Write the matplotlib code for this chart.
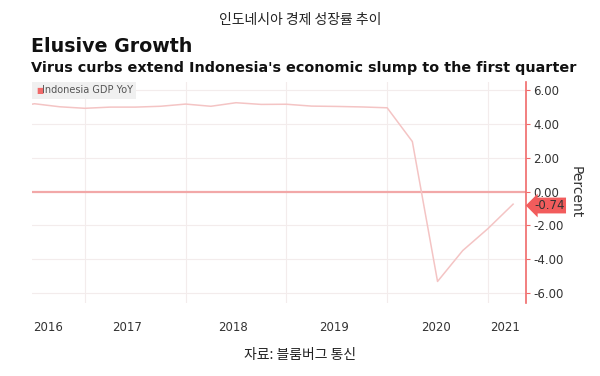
import matplotlib.pyplot as plt
import matplotlib.transforms as mtransforms

plt.rcParams['font.family'] = ['DejaVu Sans', 'Noto Sans CJK KR']

# quarterly Indonesia GDP YoY, quarter-end positions in decimal years
quarters = [2016.25, 2016.50, 2016.75, 2017.00,
            2017.25, 2017.50, 2017.75, 2018.00,
            2018.25, 2018.50, 2018.75, 2019.00,
            2019.25, 2019.50, 2019.75, 2020.00,
            2020.25, 2020.50, 2020.75, 2021.00,
            2021.25]
gdp_yoy = [4.94, 5.21, 5.03, 4.94,
           5.01, 5.01, 5.06, 5.19,
           5.06, 5.27, 5.17, 5.18,
           5.07, 5.05, 5.02, 4.97,
           2.97, -5.32, -3.49, -2.19,
           -0.74]
year_labels = ['2016', '2017', '2018', '2019', '2020', '2021']
year_label_pos = [2016.63, 2017.42, 2018.47, 2019.47, 2020.48, 2021.17]
y_ticks = [6, 4, 2, 0, -2, -4, -6]
last_value = -0.74

line_col = '#f4c4c4'
axis_red = '#f06a6a'
text_col = '#333333'

fig = plt.figure(figsize=(6, 3.76), dpi=100)
ax = fig.add_axes([0.0533, 0.194, 0.8237, 0.588])

ax.plot(quarters, gdp_yoy, color=line_col, lw=1.1, zorder=3)
ax.axhline(0, color='#f2a8a8', lw=1.6, zorder=2)

ax.set_xlim(2016.475, 2021.38)
ax.set_ylim(-6.6, 6.5)

# grid
for yr in [2017, 2018, 2019, 2020, 2021]:
    ax.axvline(yr, color='#f3ecec', lw=0.8, zorder=1)
for v in y_ticks:
    if v != 0:
        ax.axhline(v, color='#f3ecec', lw=0.8, zorder=1)

for s in ['top', 'left', 'bottom']:
    ax.spines[s].set_visible(False)
ax.spines['right'].set_color(axis_red)
ax.spines['right'].set_linewidth(1.2)

ax.yaxis.tick_right()
ax.set_yticks(y_ticks)
ax.set_yticklabels(['%.2f' % v for v in y_ticks])
ax.tick_params(axis='y', colors=axis_red, labelcolor=text_col, length=3,
               width=0.8, labelsize=8.5, pad=2)
ax.yaxis.set_label_position('right')
ax.set_ylabel('Percent', rotation=270, labelpad=14, fontsize=10, color=text_col)

ax.set_xticks(year_label_pos)
ax.set_xticklabels(year_labels)
ax.tick_params(axis='x', length=0, labelsize=8.5, labelcolor=text_col, pad=13)

# last value tag
trans = mtransforms.blended_transform_factory(ax.transAxes, ax.transData)
ax.text(1.016, last_value - 0.08, '%.2f' % last_value, transform=trans, fontsize=8.5,
        color=text_col, va='center', ha='left', zorder=5,
        bbox=dict(boxstyle='larrow,pad=0.12', fc='#f25c5c', ec='none'))

# legend box
ax.add_patch(plt.Rectangle((0.0, 0.925), 0.21, 0.075, transform=ax.transAxes,
                           fc='#f0f0f0', ec='none', zorder=4))
ax.text(0.008, 0.962, '\u25a0', transform=ax.transAxes, color='#f06a6a',
        fontsize=5.5, va='center', ha='left', zorder=6)
ax.text(0.021, 0.962, 'Indonesia GDP YoY', transform=ax.transAxes,
        color='#555555', fontsize=7, va='center', ha='left', zorder=6)

# titles
fig.text(0.5, 0.947, '인도네시아 경제 성장률 추이', ha='center', va='center',
         fontsize=10, color='#222222', family=['Noto Sans CJK KR', 'DejaVu Sans'])
fig.text(0.052, 0.875, 'Elusive Growth', ha='left', va='center',
         fontsize=13.7, fontweight='bold', color='#111111')
fig.text(0.052, 0.818, "Virus curbs extend Indonesia's economic slump to the first quarter",
         ha='left', va='center', fontsize=10.4, fontweight='bold', color='#111111')
fig.text(0.5, 0.055, '자료: 블룸버그 통신', ha='center', va='center',
         fontsize=10, color='#222222', family=['Noto Sans CJK KR', 'DejaVu Sans'])

fig.savefig('out.png', dpi=100, facecolor='white')
